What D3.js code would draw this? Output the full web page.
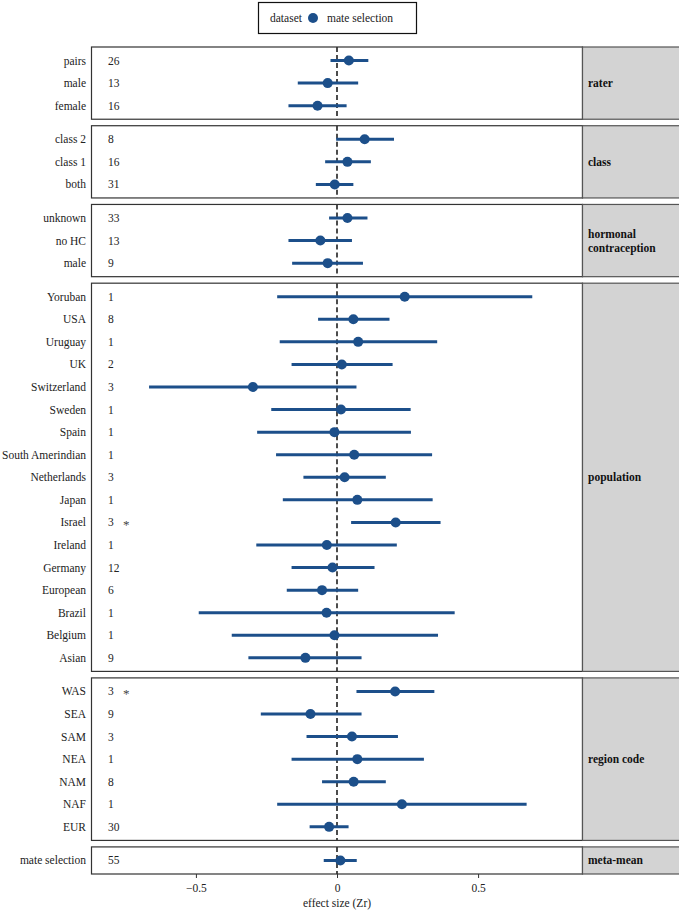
<!DOCTYPE html>
<html><head><meta charset="utf-8">
<script src="https://cdn.jsdelivr.net/npm/d3@7"></script>
<style>body{margin:0;background:#fff}svg{display:block}svg text{font-family:"Liberation Serif","DejaVu Serif Condensed","DejaVu Serif",serif;font-stretch:condensed}</style>
</head><body><div id="chart"></div>
<script>
const facets = ["rater","class","hormonal contraception","population","region code","meta-mean"];
const labels = ["pairs","male","female","class 2","class 1","both","unknown","no HC","male",
  "Yoruban","USA","Uruguay","UK","Switzerland","Sweden","Spain","South Amerindian","Netherlands","Japan","Israel","Ireland","Germany","European","Brazil","Belgium","Asian",
  "WAS","SEA","SAM","NEA","NAM","NAF","EUR","mate selection"];
const facetOf = [0,0,0,1,1,1,2,2,2, 3,3,3,3,3,3,3,3,3,3,3,3,3,3,3,3,3, 4,4,4,4,4,4,4, 5];
const kValues = [26,13,16,8,16,31,33,13,9, 1,8,1,2,3,1,1,1,3,1,3,1,12,6,1,1,9, 3,9,3,1,8,1,30, 55];
const estimates = [0.042,-0.033,-0.069, 0.098,0.037,-0.008, 0.037,-0.059,-0.033,
  0.24,0.058,0.075,0.017,-0.298,0.014,-0.009,0.061,0.027,0.072,0.208,-0.036,-0.016,-0.053,-0.037,-0.009,-0.112,
  0.206,-0.094,0.053,0.072,0.059,0.23,-0.028, 0.012];
const lower = [-0.023,-0.139,-0.172, -0.003,-0.042,-0.075, -0.028,-0.172,-0.159,
  -0.212,-0.067,-0.203,-0.161,-0.666,-0.233,-0.283,-0.216,-0.119,-0.192,0.05,-0.286,-0.161,-0.178,-0.49,-0.373,-0.314,
  0.069,-0.27,-0.108,-0.161,-0.053,-0.212,-0.097, -0.047];
const upper = [0.111,0.075,0.034, 0.202,0.12,0.058, 0.108,0.053,0.092,
  0.692,0.186,0.355,0.197,0.069,0.261,0.262,0.337,0.173,0.339,0.367,0.212,0.133,0.075,0.417,0.358,0.087,
  0.345,0.087,0.216,0.308,0.173,0.672,0.041, 0.07];
const significant = labels.map((d,i)=> i===19 || i===26);
const xTicks = [-0.5, 0, 0.5];

const W=679, H=912;
const font = "Liberation Serif, DejaVu Serif Condensed, DejaVu Serif, serif";
const col = "#1c4f8a";
const svg = d3.select("#chart").append("svg").attr("width",W).attr("height",H)
  .attr("font-family",font);

const left=91.5, right=582.5, stripR=679;
const x = d3.scaleLinear().domain([-0.87,0.87]).range([left,right]);

const top0=47, bottom0=874, gap=6.5;
const counts = facets.map((f,i)=>facetOf.filter(v=>v===i).length);
const units = counts.map(n=>n+0.2);
const u = (bottom0-top0-gap*(facets.length-1))/d3.sum(units);
let cur = top0;
const panels = facets.map((f,i)=>{
  const h = units[i]*u;
  const p = {name:f, y0:cur, y1:cur+h, rows:labels.map((l,j)=>j).filter(j=>facetOf[j]===i)};
  cur += h+gap;
  return p;
});

function txt(g){ return g.append("text"); }

panels.forEach((p,pi)=>{
  const g = svg.append("g");
  const y = d3.scalePoint().domain(p.rows).range([p.y0,p.y1]).padding(0.6);
  g.append("rect").attr("x",left).attr("y",p.y0).attr("width",right-left).attr("height",p.y1-p.y0)
    .attr("fill","#fff");
  g.append("line").attr("x1",x(0)).attr("x2",x(0)).attr("y1",p.y0).attr("y2",p.y1)
    .attr("stroke","#000").attr("stroke-width",1.4).attr("stroke-dasharray","5,3");
  p.rows.forEach(j=>{
    const yy = y(j);
    g.append("line").attr("x1",x(lower[j])).attr("x2",x(upper[j])).attr("y1",yy).attr("y2",yy)
      .attr("stroke",col).attr("stroke-width",3);
    g.append("circle").attr("cx",x(estimates[j])).attr("cy",yy).attr("r",5).attr("fill",col);
    txt(g).attr("x",86).attr("y",yy).attr("dy","0.35em").attr("text-anchor","end")
      .attr("font-size",11.5).attr("fill","#222").text(labels[j]);
    txt(g).attr("x",108).attr("y",yy).attr("dy","0.35em")
      .attr("font-size",11.5).attr("fill","#222").text(kValues[j]);
    if(significant[j]) txt(g).attr("x",123).attr("y",yy+2.5).attr("dy","0.35em")
      .attr("font-size",13).attr("fill","#444").text("*");
  });
  g.append("rect").attr("x",left).attr("y",p.y0).attr("width",right-left).attr("height",p.y1-p.y0)
    .attr("fill","none").attr("stroke","#333").attr("stroke-width",1.2);
  g.append("rect").attr("x",right).attr("y",p.y0).attr("width",stripR-right+2).attr("height",p.y1-p.y0)
    .attr("fill","#d3d3d3").attr("stroke","#555").attr("stroke-width",1.2);
  const cy=(p.y0+p.y1)/2;
  const parts = p.name==="hormonal contraception" ? ["hormonal","contraception"] : [p.name];
  parts.forEach((t,k)=>{
    txt(g).attr("x",588).attr("y",cy+(k-(parts.length-1)/2)*14).attr("dy","0.35em")
      .attr("font-size",11.5).attr("font-weight","bold").attr("fill","#111").text(t);
  });
});

const last = panels[panels.length-1];
const axis = d3.axisBottom(x).tickValues(xTicks).tickSize(4).tickPadding(6)
  .tickFormat(d=> d===0 ? "0" : (d<0 ? "\u2212"+Math.abs(d) : String(d)));
const ax = svg.append("g").attr("transform",`translate(0,${last.y1})`).call(axis);
ax.attr("font-family",null);
ax.select(".domain").remove();
ax.selectAll(".tick line").attr("stroke","#333");
ax.selectAll(".tick text").attr("font-size",11.5).attr("fill","#222");
txt(svg).attr("x",x(0)).attr("y",907).attr("text-anchor","middle")
  .attr("font-size",11.5).attr("fill","#222").text("effect size (Zr)");

// legend
const lg = svg.append("g");
lg.append("rect").attr("x",258.5).attr("y",2.5).attr("width",158).attr("height",31)
  .attr("fill","#fff").attr("stroke","#111").attr("stroke-width",1.2);
txt(lg).attr("x",270).attr("y",18).attr("dy","0.35em").attr("font-size",11.5).attr("fill","#222").text("dataset");
lg.append("circle").attr("cx",313).attr("cy",18).attr("r",5).attr("fill",col);
txt(lg).attr("x",327).attr("y",18).attr("dy","0.35em").attr("font-size",11.5).attr("fill","#222").text("mate selection");
</script></body></html>
